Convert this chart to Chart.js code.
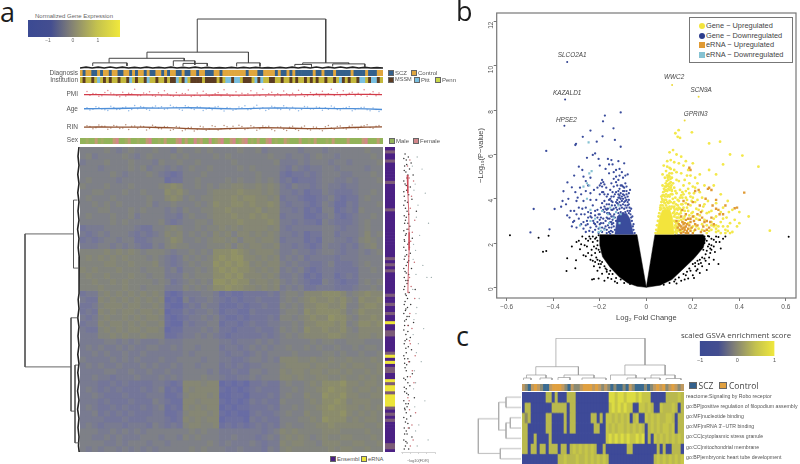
<!DOCTYPE html>
<html>
<head>
<meta charset="utf-8">
<title>Gene expression figure</title>
<script src="https://cdn.jsdelivr.net/npm/chart.js@4/dist/chart.umd.min.js"></script>
<style>
  html, body { margin: 0; padding: 0; background: #fff; }
  #page { position: relative; width: 800px; height: 464px; overflow: hidden; font-family: 'Liberation Sans', sans-serif; }
  #page canvas { position: absolute; }
  .txt { position: absolute; white-space: nowrap; color: #555; line-height: 1; }
  .swatch { position: absolute; }
  .letter { position: absolute; font-family: 'Open Sans', sans-serif; font-size: 27px; color: #1c1c1c; line-height: 1; }
</style>
</head>
<body>
<div id="page"></div>
<script>
// ---- panel a data ----
var heatRows = [
'444 454345 444 54 435 445454 44454 45344 4443 444 34 44 44 4544',
'453 444454 345 44 454 544445 45444 44454 4344 345 44 34 44 4454',
'344 454445 444 35 445 445444 44544 44445 3334 344 43 44 34 4445',
'444 344445 453 44 343 454454 44454 54444 3243 233 44 34 44 4344',
'444 445434 445 43 212 444544 44444 45444 2122 323 44 43 34 4454',
'454 444344 444 44 122 445444 45454 45454 2312 223 44 33 43 4445',
'544 454445 444 45 676 445454 55665 56565 3243 323 43 32 33 4444',
'445 544454 454 44 767 544456 66676 66565 3323 122 43 22 23 4454',
'454 445444 445 44 676 454556 66767 76656 2332 112 34 21 22 4544',
'445 454544 445 34 454 445457 66776 76676 3233 212 43 11 32 4445',
'444 554445 454 44 343 544556 67666 67566 3323 121 44 12 32 5444',
'454 445445 344 44 332 454456 66766 76766 2333 112 34 21 23 4454',
'444 445454 444 45 323 445546 66676 66676 3323 221 43 22 23 4544',
'233 344444 322 44 565 445455 65656 66656 3233 333 44 32 33 4544',
'323 434443 232 34 656 454546 56466 56565 3323 122 44 23 33 4645',
'232 344344 223 44 576 445456 65646 65665 2333 121 44 33 23 5654',
'333 443434 322 43 565 544455 56465 66556 3323 212 43 32 32 4564',
'555 565656 545 55 434 454547 77876 56665 3343 323 44 32 33 4345',
'565 656565 554 54 323 545457 87886 65656 3434 233 33 23 33 4444',
'555 566556 555 64 323 454558 78787 56566 4343 322 34 22 23 4544',
'656 555655 545 55 342 445457 87877 65656 3434 212 33 22 22 4454',
'565 565556 554 55 333 545557 78786 66565 3343 121 33 12 32 4444',
'556 556565 555 45 423 454548 87877 56656 4343 211 43 21 22 4545',
'555 655565 545 55 333 545457 78776 65656 3434 223 33 22 23 4454',
'233 565656 565 65 101 333443 12112 22232 4554 666 77 76 45 6766',
'322 656565 656 56 010 423343 21212 23222 4545 676 67 67 54 7667',
'223 566656 655 65 100 232433 11121 22322 5454 667 76 67 44 6776',
'232 656566 566 56 011 323343 12211 32222 4554 767 77 76 45 7666',
'323 565565 656 65 101 233434 21121 22232 5545 676 68 77 54 6676',
'233 656656 565 56 100 323344 12212 32233 4454 667 77 67 45 7767',
'322 565656 656 65 011 333434 22122 23223 5454 766 76 67 54 6666',
'333 556565 565 55 112 334343 21222 22323 4545 666 67 76 55 6656',
'333 344343 433 34 333 444444 33233 34343 4444 454 55 44 55 5444',
'343 433434 334 43 343 443444 23323 43434 4544 545 44 54 45 4554',
'334 343343 343 33 333 434444 32332 34344 4454 444 55 45 44 5445',
'433 334343 433 34 334 444344 33223 44343 6665 565 56 55 65 5565',
'343 433433 343 43 343 443444 23232 33444 5666 656 65 56 56 6556',
'333 344334 334 33 433 444434 22322 44344 6566 566 56 65 65 5656',
'334 332333 433 34 343 444544 32233 43444 6656 556 65 56 55 6565',
'333 223232 222 33 212 666566 01010 22322 4544 565 77 78 66 5665',
'343 232322 232 34 121 656666 10101 23222 4454 556 78 77 65 6656',
'334 322232 223 33 112 566656 00110 22232 4544 655 87 78 66 5566',
'333 232223 222 43 211 665666 10101 32322 5444 565 77 87 56 6655',
'343 223232 232 34 121 656566 01011 22232 4454 556 78 77 66 5656',
'334 232323 222 33 112 566656 10100 23223 4544 655 77 78 65 6565',
'333 322232 223 33 212 656566 01110 32322 4445 565 87 77 56 5665',
'343 233323 332 43 232 566556 12121 23232 4544 556 67 66 66 6556',
'444 334343 434 44 444 454544 33333 33234 6565 555 66 65 55 5655',
'443 343433 344 43 443 545444 33433 32343 5656 545 65 56 65 5565',
'444 433434 443 44 344 444454 34333 43233 6566 554 66 65 56 6556',
'434 344343 434 34 444 454544 43343 33243 5655 555 56 56 65 5655'
]
var heatColors = { 0: '#686ca4', 1: '#6e719f', 2: '#747699', 3: '#797b91', 4: '#7e8087', 5: '#82847d', 6: '#868774', 7: '#8b8c6c', 8: '#919265', 9: '#9a9b5c' }

var diagnosisTrack = ['CSCCSSCSCCSCCSSCCSCSCCSCSSCCSCSCCSSCSSCCSCCSSSCCSC CCCCCCCSCCCSSCCCCSCSSCSCSS SSSSCSSCSSSCSSSSSCSSSSCSSSCC'.replace(/ /g, '')]
var institutionTrack = ['NMNNMNPNMNMNNMNNMPNMNNMPNNMNNMNMMPNMPNMMMMNMMMMNMN PPMPPNMMMNPMPNNMMNNMNNMNMN NMNMNMNNMNNMNPMNMNNMPPNMPPMN'.replace(/ /g, '')]
var sexTrack = ['MMmMMfMmMMMfFMMmfMMmMMfFMMmMfMMMfFMfMMFmfMMFMmfFMMfFMmfFMmMfMMfFMmMMfmMMMfMMmMfMMMmMfMMMMfMMMMfFMMMfM']
var trackColors = { S: '#33608c', C: '#e0a63e', M: '#5c3c22', P: '#79bfe0', N: '#c4b83c' }
var sexColors = { M: '#93b35a', m: '#a3ad62', f: '#c29a74', F: '#d2868a' }

var geneTypeRows = ['PTPPTPPPPP', 'PTPPPPPPPP', 'TPPPPPPPPP', 'PPPPPPTPTP', 'TPPPPPPPTP', 'PTPPTPPYPP', 'TTPPPPPTYP', 'YPTTPPYTYY', 'TYYYYTPTPT', 'PPPPPPPTTP'].join('').split('')
var geneTypeColors = { P: '#4b2184', T: '#7c5c78', Y: '#ece43a' }

var pmiPoints = [[1, 34], [3, 25], [5, 12], [7, 30], [8, 39], [10, 22], [12, 10], [13, 31], [15, 26], [17, 44], [18, 15], [20, 27], [22, 33], [24, 13], [25, 28], [27, 38], [29, 16], [31, 30], [33, 25], [35, 41], [36, 11], [38, 27], [40, 35], [42, 14], [44, 24], [45, 29], [47, 42], [49, 12], [51, 33], [53, 26], [54, 17], [56, 37], [58, 27], [60, 44], [61, 13], [63, 31], [65, 24], [67, 36], [69, 15], [70, 26], [72, 40], [74, 11], [76, 30], [78, 25], [80, 35], [81, 14], [83, 44], [85, 28], [87, 38], [88, 16], [90, 31], [92, 26], [94, 42], [95, 13], [97, 33], [99, 27], [2, 17], [4, 23], [6, 15], [9, 27], [11, 16], [14, 14], [16, 23], [19, 16], [21, 23], [23, 16], [26, 15], [28, 24], [30, 13], [32, 15], [34, 24], [37, 16], [39, 14], [41, 24], [43, 17], [46, 15], [48, 24], [50, 16], [52, 14], [55, 24], [57, 15], [59, 16], [62, 24], [64, 14], [66, 16], [68, 24], [71, 14], [73, 25], [75, 15], [77, 17], [79, 14], [82, 24], [84, 16], [86, 14], [89, 26], [91, 15], [93, 17], [96, 24], [98, 15]]
var pmiLine = [20, 20, 19, 20, 19, 19, 18, 18, 18, 19, 18, 18, 19, 19, 19, 20, 21, 20, 21, 21, 20]
var agePoints = [[1, 62], [2, 43], [4, 70], [6, 50], [8, 38], [9, 74], [11, 46], [13, 62], [15, 36], [17, 80], [18, 52], [20, 66], [22, 41], [24, 76], [25, 60], [27, 48], [29, 82], [31, 66], [33, 40], [34, 78], [36, 56], [38, 70], [40, 38], [42, 62], [43, 44], [45, 72], [47, 35], [49, 58], [50, 40], [52, 68], [54, 78], [56, 48], [58, 82], [60, 62], [61, 38], [63, 74], [65, 52], [67, 78], [69, 44], [70, 66], [72, 36], [74, 72], [76, 50], [78, 68], [80, 40], [81, 62], [83, 76], [85, 46], [87, 58], [89, 70], [90, 36], [92, 56], [94, 66], [96, 36], [97, 60], [99, 30], [3, 48], [5, 63], [7, 44], [10, 64], [12, 48], [14, 68], [16, 46], [19, 72], [21, 48], [23, 66], [26, 70], [28, 52], [30, 68], [32, 48], [35, 68], [37, 46], [39, 66], [41, 50], [44, 68], [46, 48], [48, 64], [51, 48], [53, 62], [55, 44], [57, 66], [59, 50], [62, 48], [64, 66], [66, 46], [68, 64], [71, 52], [73, 46], [75, 68], [77, 50], [79, 64], [82, 48], [84, 66], [86, 42], [88, 64], [91, 46], [93, 64], [95, 44], [98, 46]]
var ageLine = [53, 54, 55, 57, 60, 58, 60, 61, 59, 55, 52, 54, 58, 60, 58, 56, 56, 54, 54, 52, 47]
var rinPoints = [[1, 8.1], [3, 6.2], [5, 8.6], [6, 7.9], [8, 5.8], [10, 8.4], [12, 6.4], [14, 8.8], [15, 5.6], [17, 8], [19, 7.8], [21, 5.4], [23, 8.5], [25, 6.4], [27, 7.7], [29, 5.1], [31, 7.6], [33, 4.8], [35, 6.9], [37, 4.6], [39, 7.9], [41, 5.2], [43, 8.2], [45, 5.4], [47, 8.3], [49, 5.9], [50, 7.9], [52, 8.5], [54, 5.6], [56, 8.2], [58, 5.1], [60, 8], [62, 7.8], [64, 4.8], [66, 7.4], [68, 5], [70, 7.9], [72, 5], [74, 8], [76, 5.4], [78, 7.2], [80, 4.9], [82, 8.3], [84, 5.8], [86, 8], [88, 6], [90, 8.7], [92, 6], [94, 8.2], [95, 8.8], [97, 6.5], [99, 8.4], [2, 7.7], [4, 6.8], [7, 7.9], [9, 6.6], [11, 7.8], [13, 6.7], [16, 7.8], [18, 6.5], [20, 7.7], [22, 6.3], [24, 7.5], [26, 6.1], [28, 7.3], [30, 5.7], [32, 7.1], [34, 5.5], [36, 7.2], [38, 5.6], [40, 7.3], [42, 6], [44, 7.6], [46, 6.2], [48, 7.5], [51, 6.2], [53, 7.6], [55, 6.3], [57, 7.4], [59, 6.1], [61, 7.2], [63, 5.7], [65, 7.1], [67, 5.8], [69, 7.2], [71, 5.8], [73, 7.2], [75, 6], [77, 7.4], [79, 6.2], [81, 7.5], [83, 6.6], [85, 7.7], [87, 6.6], [89, 7.8], [91, 6.8], [93, 7.8], [96, 7], [98, 7.9]]
var rinLine = [7.3, 7.4, 7.2, 7.3, 7.2, 7, 6.7, 6.3, 6, 6, 6.4, 6.6, 6.9, 6.8, 6.5, 6.2, 6.3, 6.6, 7, 7.2, 7.4]

var fdrDark = [[.6, 1], [1.4, 2], [.9, 3], [2.1, 4], [.5, 5], [1.7, 6], [.8, 7], [2.6, 8], [1.1, 9], [.6, 11], [1.9, 12], [1, 13], [.4, 15], [2.3, 16], [1.2, 17], [.7, 19], [3.4, 20], [1.5, 21], [.9, 22], [.5, 24], [1.8, 25], [1.1, 26], [.7, 28], [2.4, 29], [.5, 30], [1.3, 31], [.8, 33], [1.9, 34], [.6, 35], [1.2, 37], [.9, 38], [2.2, 39], [.6, 40], [1.5, 41], [.8, 43], [1.1, 44], [.5, 45], [3.1, 46], [1.6, 47], [.9, 48], [.6, 50], [2, 51], [1.2, 52], [.7, 53], [1.6, 55], [.9, 56], [2.7, 57], [.5, 58], [1.3, 60], [.8, 61], [1.9, 62], [.6, 63], [1.4, 65], [2.2, 66], [.9, 67], [.5, 69], [1.7, 70], [1, 71], [.6, 72], [2.4, 74], [1.2, 75], [.7, 76], [1.8, 78], [.9, 79], [.5, 80], [1.4, 81], [2.9, 82], [.8, 84], [1.1, 85], [.6, 86], [2, 88], [1, 89], [.7, 90], [1.6, 92], [.9, 93], [.5, 94], [2.3, 95], [1.1, 97], [.7, 98], [1.5, 99], [.3, 2.5], [1, 4.5], [.4, 6.5], [1.3, 8], [.3, 10], [.9, 11.5], [.3, 13.5], [1.5, 14.5], [.6, 16.5], [.3, 18], [1.1, 20], [.4, 21.5], [.7, 23], [1.3, 24], [.3, 26.5], [.9, 27.5], [.4, 29.5], [1.6, 30.5], [.3, 32], [1, 34.5], [.4, 36], [1.5, 36.5], [.3, 39], [.9, 40.5], [.4, 42], [1.3, 43], [.3, 46], [.7, 47.5], [1.2, 49], [.4, 51], [.8, 52.5], [.3, 54], [1.1, 55], [.5, 56.5], [1.4, 58], [.3, 59.5], [1, 62.5], [.4, 64], [.8, 65.5], [.3, 68], [1.3, 69], [.5, 70.5], [.9, 73], [.3, 75.5], [1.3, 77], [.4, 78.5], [1, 80.5], [.3, 83], [1.4, 84], [.5, 85.5], [.9, 87], [.3, 88.5], [1.3, 90.5], [.4, 92], [1.1, 94], [.3, 96], [.8, 96.5], [.4, 99]]
var fdrLight = [[3.6, 2], [4.8, 6], [3.1, 11], [5.6, 14], [3.8, 18], [6.4, 24], [4.2, 28], [3.2, 33], [5, 38], [6, 42], [7.1, 42], [4.1, 49], [3.3, 54], [5.2, 59], [3.9, 64], [4.6, 70], [3.2, 77], [5.5, 83], [4, 91], [6.3, 96], [3.6, 98], [2.6, 36], [2.8, 56], [2.9, 73], [2.4, 5], [2.8, 13], [3.4, 22], [2.7, 31], [3.3, 41], [2.5, 46], [3.5, 52], [2.6, 61], [3.4, 67], [2.7, 79], [3, 85], [3.2, 93]]
var fdrRed = [[1.8, 3], [2.7, 10], [2.2, 15], [3, 23], [2.4, 27], [1.7, 32], [2.9, 37], [2.1, 45], [3, 49], [2.3, 59], [1.9, 64], [3.1, 68], [2.4, 73], [2.8, 77], [1.6, 83], [3.2, 87], [2.3, 91], [2.6, 96], [1.2, 5], [1.6, 9], [1.3, 12], [1.9, 19], [1.4, 26], [2, 30], [1.5, 35], [1.7, 42], [1.4, 47], [1.8, 54], [1.3, 58], [1.7, 63], [1.5, 70], [1.9, 75], [1.3, 82], [1.7, 86], [1.4, 92], [1.9, 98]]
var fdrLine = [[1.1, 8], [1.3, 14], [1.5, 20], [1.6, 27], [1.6, 33], [1.4, 40], [1.3, 47]]

var dendroTop = [
  [[38.7, 16.5], [38.7, 49], [81.1, 49], [81.1, 6]],
  [[22.1, 10.5], [22.1, 16.5], [55.6, 16.5], [55.6, 6]],
  [[9.6, 6], [9.6, 10.5], [34.4, 10.5], [34.4, 8]],
  [[51.7, 2.5], [51.7, 6], [59.4, 6], [59.4, 2.5]],
  [[30.8, 3], [30.8, 8], [37.9, 8], [37.9, 4]],
  [[34, 3], [34, 5.5], [42, 5.5], [42, 3]],
  [[4.2, 3], [4.2, 6], [15.5, 6], [15.5, 3]],
  [[73.5, 4.5], [73.5, 6], [88.7, 6], [88.7, 5]],
  [[70.9, 2.5], [70.9, 4.5], [76.4, 4.5], [76.4, 2.5]],
  [[83.4, 2.5], [83.4, 5], [94, 5], [94, 2]]
]
var dendroTopBase = [[0, 1], [2, 1.8], [4, 1], [6, 1.8], [8, 1], [10, 2], [12, 1], [14, 1.8], [16, 1], [18, 1.6], [20, 1], [22, 1.8], [24, 1], [26, 1.6], [28, 1], [30, 1.8], [32, 1], [34, 1.6], [36, 1], [38, 1.8], [40, 1], [42, 1.6], [44, 1], [46, 1.3], [48, 1], [50, 1.6], [52, 1], [54, 1.6], [56, 1], [58, 1.6], [60, 1], [62, 1.3], [64, 1], [66, 1.6], [68, 1], [70, 1.8], [72, 1], [74, 1.8], [76, 1], [78, 2], [80, 1], [82, 1.8], [84, 1], [86, 2], [88, 1], [90, 1.8], [92, 1], [94, 1.6], [96, 1], [98, 1.3], [100, 1]]

var dendroLeft = [
  [[6.5, 28.5], [55, 28.5], [55, 72.1], [9, 72.1]],
  [[2.5, 17.4], [6.5, 17.4], [6.5, 39.7], [1, 39.7]],
  [[2, 56], [9, 56], [9, 86.6], [5, 86.6]],
  [[2, 71.5], [5, 71.5], [5, 97], [1, 97]]
]
var dendroLeftBase = [[1, 0], [2, 3], [1, 6], [2.2, 9], [1, 12], [2.2, 15], [1, 18], [2, 21], [1, 24], [2.4, 27], [1, 30], [1.8, 33], [.8, 36], [1, 40], [.8, 44], [1, 48], [1.8, 50], [1, 53], [2.2, 56], [1, 59], [2, 62], [1, 65], [2.2, 68], [1, 71], [2.2, 74], [1, 77], [2.4, 80], [1, 83], [2.4, 86], [1, 89], [2, 92], [1, 95], [1.5, 98], [.8, 100]]

// ---- panel b data ----
var volcanoXTicks = [-0.6, -0.4, -0.2, 0, 0.2, 0.4, 0.6]
var namedGenes = ['SLCO2A1', 'KAZALD1', 'HPSE2', 'WWC2', 'SCN9A', 'GPRIN3']
var namedDown = [[-.34, 10.18], [-.349, 8.48], [-.352, 7.3]]
var namedUp = [[.111, 9.14], [.225, 8.61], [.165, 7.53]]
var geneDown = [[-.11, 7.9], [-.178, 7.76], [-.186, 7.5], [-.141, 7.18], [-.24, 7.08], [-.273, 6.8], [-.188, 6.82], [-.135, 6.66], [-.213, 6.58], [-.302, 6.48], [-.305, 6.43], [-.43, 6.16], [-.11, 6.35], [-.22, 6.05], [-.23, 5.98], [-.205, 5.8], [-.255, 5.85], [-.165, 5.8], [-.15, 5.75], [-.145, 5.55], [-.12, 5.7], [-.095, 5.6], [-.2, 5.5], [-.175, 5.35], [-.29, 5.45], [-.275, 5.3], [-.31, 5.05], [-.27, 5], [-.16, 5.15], [-.13, 5.3], [-.105, 5.2], [-.08, 5.1], [-.19, 4.85], [-.195, 4.7], [-.185, 4.75], [-.18, 4.65], [-.172, 4.5], [-.24, 4.95], [-.26, 4.8], [-.339, 4.74], [-.32, 4.52], [-.356, 4.34], [-.305, 4.3], [-.285, 4.5], [-.25, 4.6], [-.225, 4.4], [-.15, 4.7], [-.14, 4.9], [-.12, 4.85], [-.09, 4.7], [-.07, 4.4], [-.155, 4.4], [-.165, 4.2], [-.2, 4.2], [-.215, 3.95], [-.24, 3.95], [-.27, 3.9], [-.3, 3.9], [-.366, 3.64], [-.394, 3.54], [-.484, 3.54], [-.34, 3.25], [-.33, 3.15], [-.325, 3.45], [-.29, 3.6], [-.26, 3.6], [-.23, 3.7], [-.19, 3.8], [-.17, 3.75], [-.15, 3.9], [-.165, 3.55], [-.18, 3.4], [-.2, 3.3], [-.22, 3.25], [-.25, 3.15], [-.28, 3.3], [-.31, 3], [-.32, 2.75], [-.3, 2.7], [-.27, 2.95], [-.24, 2.7], [-.26, 2.5], [-.22, 2.6], [-.2, 2.85], [-.19, 2.5], [-.175, 3], [-.16, 2.7], [-.15, 3.2], [-.145, 2.5], [-.498, 2.48], [-.416, 2.62], [-.21, 2.95], [-.18, 2.65], [-.17, 2.45], [-.155, 2.95], [-.145, 3.5], [-.135, 4.2], [-.125, 4.6], [-.115, 4.45], [-.1, 4.35], [-.085, 4.2], [-.075, 3.95], [-.065, 3.55], [-.06, 3.2], [-.055, 2.85], [-.142, 2.9], [-.148, 3.7], [-.158, 3.1], [-.168, 3.35], [-.185, 2.9], [-.195, 3.15], [-.205, 2.65], [-.228, 3], [-.238, 3.35], [-.252, 2.85], [-.13, 5], [-.1, 4.95], [-.115, 5.05], [-.16, 5.55], [-.14, 5.2],
  [-.05, 2.45], [-.055, 2.6], [-.058, 2.75], [-.062, 3], [-.065, 3.15], [-.068, 3.3], [-.07, 3.45], [-.072, 3.6], [-.075, 3.75], [-.08, 3.85], [-.085, 3.95], [-.09, 4.05], [-.095, 4.15], [-.1, 4.2], [-.105, 4.1], [-.11, 4.25], [-.115, 4.15], [-.12, 4.05], [-.125, 3.95], [-.13, 3.85], [-.135, 3.7], [-.14, 3.55], [-.138, 3.3], [-.142, 3.2], [-.145, 3.05], [-.148, 2.85], [-.15, 2.7], [-.152, 2.55], [-.155, 2.42], [-.13, 2.45], [-.135, 2.6], [-.14, 2.75], [-.13, 3], [-.135, 3.15], [-.075, 3.35], [-.08, 3.45], [-.09, 3.4], [-.1, 3.35], [-.11, 3.4], [-.12, 3.35], [-.125, 3.5], [-.115, 3.55], [-.105, 3.6], [-.095, 3.55], [-.085, 3.6], [-.08, 3.7], [-.09, 3.7], [-.1, 3.75], [-.11, 3.7], [-.12, 3.75], [-.13, 3.6], [-.095, 3.85], [-.105, 3.9], [-.115, 3.85], [-.125, 3.8], [-.1, 4], [-.11, 4], [-.09, 3.9], [-.115, 4.05],
  [-.16, 2.5], [-.165, 2.8], [-.17, 3.15], [-.175, 3.55], [-.18, 3.9], [-.185, 4.3], [-.19, 4.55], [-.195, 3.6], [-.2, 3.05], [-.205, 2.45], [-.21, 3.5], [-.215, 2.75], [-.22, 3.45], [-.225, 2.9], [-.23, 2.5], [-.235, 3.15], [-.24, 4.25], [-.245, 2.55], [-.25, 3.4], [-.255, 3], [-.26, 2.8], [-.265, 3.3], [-.27, 2.65], [-.275, 3.55], [-.28, 2.85], [-.29, 3.1], [-.295, 4.05], [-.3, 3.3], [-.31, 3.45], [-.315, 2.95], [-.335, 4], [-.345, 3.75], [-.36, 3.9], [-.28, 4.2], [-.26, 4.35], [-.21, 4.5], [-.2, 4.6], [-.19, 4.3], [-.18, 4.2], [-.17, 4.1], [-.16, 3.95], [-.15, 4.1], [-.145, 4.3], [-.14, 4.55], [-.13, 4.75], [-.12, 4.35], [-.115, 5.35], [-.105, 4.6], [-.095, 4.5], [-.085, 4.55], [-.075, 4.25], [-.09, 5.05], [-.16, 3.35], [-.175, 2.75], [-.185, 3.1], [-.19, 2.7], [-.21, 3.15], [-.22, 2.85], [-.24, 3.2], [-.15, 2.95], [-.155, 3.3], [-.15, 3.5], [-.16, 3.75], [-.155, 4], [-.17, 2.6], [-.165, 3.1], [-.18, 3.65], [-.17, 3.5], [-.185, 3.5], [-.195, 2.9], [-.205, 3.3], [-.145, 3.85], [-.14, 4.1], [-.13, 4.3], [-.12, 4.2], [-.11, 4.6], [-.1, 4.55], [-.095, 4.35], [-.085, 4.35], [-.08, 4.1]]
var ernaDown = [[-.248, 6.55], [-.235, 5.25], [-.245, 5.15], [-.27, 4.55], [-.255, 4.7], [-.245, 4.6], [-.255, 4], [-.24, 3.5], [-.22, 3.1], [-.19, 3.45], [-.165, 3.3], [-.155, 3.6], [-.14, 3.15], [-.13, 3.4], [-.115, 2.9], [-.12, 3.7], [-.205, 2.5], [-.2, 2.7], [-.195, 2.55], [-.18, 2.6], [-.285, 2.8], [-.24, 3], [-.11, 3.3], [-.16, 2.9]]
var geneUp = [[.139, 7.1], [.125, 6.96], [.135, 6.8], [.196, 7], [.145, 6.75], [.27, 6.5], [.317, 6.58], [.36, 6], [.413, 5.95], [.482, 5.45], [.33, 5.55], [.2, 5.6], [.531, 2.56], [.1, 6.1], [.115, 6.2], [.13, 6], [.15, 5.9], [.17, 5.7], [.09, 5.7], [.105, 5.75], [.12, 5.65], [.14, 5.6], [.16, 5.5], [.18, 5.3], [.1, 5.4], [.085, 5.25], [.11, 5.15], [.13, 5.2], [.15, 5.15], [.19, 5.05], [.21, 4.95], [.23, 5.1], [.25, 4.6], [.27, 5.3], [.3, 5.1], [.08, 4.95], [.095, 4.85], [.115, 4.7], [.14, 4.8], [.16, 4.6], [.18, 4.45], [.2, 4.55], [.22, 4.7], [.29, 4.6], [.32, 4.2], [.35, 3.9], [.07, 4.6], [.085, 4.4], [.11, 4.35], [.13, 4.25], [.15, 4.15], [.17, 4.05], [.19, 4.1], [.21, 3.85], [.24, 4.05], [.3, 3.8], [.33, 3.6], [.37, 3.5], [.4, 3.4], [.065, 4.1], [.08, 3.95], [.12, 3.85], [.135, 3.7], [.155, 3.75], [.175, 3.6], [.2, 3.4], [.225, 3.5], [.27, 3.4], [.3, 3.2], [.33, 3.1], [.36, 2.9], [.39, 2.75], [.06, 3.6], [.12, 3.4], [.14, 3.3], [.16, 3.1], [.185, 3.25], [.215, 3.1], [.25, 3.05], [.28, 2.95], [.31, 2.75], [.34, 2.6], [.37, 2.5], [.3, 2.5], [.32, 2.45], [.27, 2.55], [.24, 2.6], [.2, 2.75], [.18, 2.9], [.13, 2.9], [.14, 2.6], [.125, 2.5], [.115, 3], [.105, 4.75], [.12, 4.5], [.098, 4.55], [.07, 5.1], [.09, 5.45], [.075, 5.5], [.13, 3.55], [.15, 3.45], [.165, 3.45], [.125, 4.05], [.145, 4.4], [.165, 4.85], [.175, 5.05], [.13, 2.65], [.28, 2.6], [.29, 2.75], [.26, 2.8], [.225, 2.65], [.35, 2.75], [.32, 3.4],
  [.04, 2.45], [.043, 2.6], [.046, 2.8], [.05, 3], [.053, 3.2], [.056, 3.35], [.06, 3.5], [.062, 3.7], [.065, 3.85], [.068, 4], [.07, 4.15], [.073, 4.3], [.076, 4.45], [.08, 4.55], [.084, 4.7], [.088, 4.8], [.092, 4.95], [.096, 5.05], [.1, 5], [.104, 4.9], [.108, 4.6], [.11, 4.4], [.112, 4.2], [.114, 4], [.116, 3.8], [.118, 3.6], [.12, 3.2], [.122, 3], [.125, 2.8], [.128, 2.6], [.13, 2.45], [.135, 2.55], [.138, 2.75], [.14, 3], [.145, 2.5], [.065, 3.55], [.07, 3.7], [.075, 3.6], [.08, 3.55], [.085, 3.7], [.09, 3.6], [.095, 3.55], [.1, 3.65], [.105, 3.55], [.11, 3.65], [.07, 3.95], [.075, 3.85], [.08, 3.8], [.085, 3.95], [.09, 3.85], [.095, 3.8], [.1, 3.9], [.105, 3.85], [.075, 4.15], [.08, 4.1], [.085, 4.2], [.09, 4.1], [.095, 4.15], [.1, 4.1], [.105, 4.2], [.08, 4.35], [.085, 4.55], [.09, 4.35], [.095, 4.45], [.1, 4.4], [.09, 4.6], [.095, 4.65], [.1, 4.7], [.105, 4.5],
  [.125, 3.3], [.13, 3.15], [.135, 3.5], [.14, 3.9], [.145, 3.55], [.15, 3.05], [.155, 4.3], [.16, 3.6], [.165, 3.2], [.17, 4.35], [.175, 3.95], [.18, 3.45], [.185, 4.7], [.19, 3.7], [.195, 3.35], [.2, 4.05], [.205, 3.2], [.21, 4.5], [.22, 3.95], [.225, 3.05], [.23, 4.3], [.24, 3.45], [.25, 3.75], [.26, 3.35], [.265, 3.9], [.28, 3.45], [.29, 3.1], [.3, 2.8], [.31, 2.55], [.33, 2.75], [.345, 3.15], [.355, 3.4], [.38, 3.05], [.4, 2.9], [.44, 3.2], [.34, 2.45], [.36, 2.45], [.12, 2.7], [.135, 3.15], [.125, 2.95], [.11, 4.95], [.105, 5.35], [.12, 5.3], [.1, 5.15], [.09, 5.05], [.13, 4.85], [.125, 4.35], [.145, 4.05], [.16, 4.2], [.135, 3.95], [.15, 3.75], [.115, 3.35], [.12, 3.65],
  [.132, 3.35], [.142, 3.15], [.148, 3.35], [.122, 3.5], [.128, 3.75], [.14, 3.6], [.128, 2.75], [.135, 2.9], [.15, 2.55], [.158, 2.95], [.19, 2.65], [.205, 2.55], [.215, 2.75], [.24, 2.85], [.26, 2.45], [.28, 2.8], [.3, 2.65], [.32, 2.95], [.35, 2.55], [.155, 4.05], [.17, 3.8], [.185, 4.25], [.195, 3.9], [.205, 4.25], [.215, 3.55], [.23, 3.25], [.245, 3.65]]
var ernaUp = [[.421, 4.28], [.38, 3.57], [.39, 3.6], [.27, 4.5], [.28, 4.4], [.265, 4.45], [.185, 5.4], [.19, 5.3], [.21, 4.35], [.225, 4.4], [.3, 3.95], [.255, 4], [.16, 3.9], [.18, 3.75], [.2, 3.85], [.23, 3.7], [.22, 3.3], [.17, 3.3], [.15, 3.2], [.19, 3.1], [.13, 3], [.14, 2.85], [.155, 2.95], [.17, 3.05], [.18, 3.1], [.2, 3.2], [.24, 3.15], [.25, 2.95], [.26, 3], [.275, 2.95], [.29, 2.85], [.31, 3.5], [.315, 3.3], [.33, 3.3], [.34, 3.7], [.3, 3.55], [.285, 3.7], [.135, 2.7], [.145, 2.6], [.15, 2.75], [.16, 2.85], [.165, 2.6], [.17, 2.75], [.175, 2.55], [.18, 2.65], [.16, 2.5], [.15, 2.45], [.145, 2.8], [.19, 2.55], [.185, 2.8], [.195, 2.7], [.21, 2.6], [.22, 2.8], [.235, 2.5], [.25, 2.55], [.27, 2.7], [.17, 2.45], [.165, 2.9], [.155, 2.65], [.16, 2.7], [.175, 2.85], [.18, 2.45], [.2, 2.45], [.165, 2.7], [.21, 2.85], [.23, 3.05], [.245, 2.75], [.26, 2.6], [.28, 3.15], [.205, 3], [.19, 2.95], [.235, 3.4], [.155, 3.5]]
var notSignificant = [[-.34, 1.31], [-.343, .74], [-.305, .86], [-.302, 1.23], [-.27, 1.45], [-.265, 1.9], [-.285, 1.72], [-.29, 2.1], [-.26, 2.2], [-.25, 1.55], [-.24, 1.25], [-.235, 1.7], [-.23, 2.05], [-.225, .95], [-.22, 1.15], [-.215, 2.25], [-.21, .75], [-.205, 1.05], [-.22, 1.55], [-.245, 2.3], [-.275, 2.3], [-.3, 2.05], [-.32, 1.85], [-.233, .35], [-.225, .38], [-.205, .4], [-.165, .43], [-.18, .3], [-.135, .27], [-.15, .38], [-.19, .62], [-.17, .7], [-.2, .9], [-.444, 1.61], [-.43, 1.64], [-.42, 2.33], [-.463, 2.24], [-.586, 2.35], [.612, 2.29], [.34, 2.3], [.33, 2.2], [.31, 2.28], [.3, 2.05], [.32, 1.75], [.29, 1.85], [.275, 1.55], [.29, 1.25], [.27, 1.05], [.31, 1.05], [.255, 1.2], [.26, .78], [.24, .95], [.23, .65], [.22, .82], [.2, .55], [.205, .42], [.18, .4], [.165, .35], [.15, .3], [.13, .18], [.28, 2.2], [.27, 1.95], [.265, 2.32], [.29, 2.15], [.25, 2], [.245, 1.7], [.26, 1.65], [.23, 1.25], [.225, 1.05], [.21, .95], [-.21, 1.9], [-.215, 1.35], [-.2, 1.6], [-.19, 1.15], [-.175, .85], [-.16, .6], [-.125, .2], [.19, .75], [.17, .55], [.12, .27],
  [-.205, 2.35], [-.21, 2.1], [-.205, 1.7], [-.215, 1.75], [-.225, 1.85], [-.22, 2.2], [-.23, 2.3], [-.235, 1.45], [-.23, 1.2], [-.21, 1.25], [-.2, 1.2], [-.195, 1.05], [-.18, .95], [-.17, .8], [-.155, .75], [-.145, .6], [-.13, .42], [-.11, .35], [-.095, .2], [-.07, .15], [-.25, 2.1], [-.255, 1.85], [-.24, 2.2], [-.26, 1.4], [-.28, 1.95], [.25, 2.3], [.26, 2.1], [.265, 1.85], [.255, 1.5], [.24, 1.35], [.22, 1.2], [.21, 1.1], [.2, 1.05], [.185, .85], [.175, .7], [.16, .6], [.14, .45], [.125, .35], [.1, .2], [.075, .12], [.27, 2.3], [.28, 1.9], [.275, 1.75], [.25, 1.3], [.235, 1.1], [.27, 1.35], [.28, 1.7], [.3, 2.3], [.315, 2.05], [.295, 1.6], [.215, .75]]
var blackLeftShape = [[0, 0], [-.04, .05], [-.08, .2], [-.117, .48], [-.155, .9], [-.188, 1.38], [-.2, 1.9], [-.2, 2.38], [-.04, 2.38], [0, 0]]
var blackRightShape = [[0, 0], [.037, 2.38], [.245, 2.38], [.255, 2.2], [.245, 1.8], [.205, 1.3], [.15, .75], [.11, .35], [.06, .1], [0, 0]]
var blueDenseShape = [[-.055, 2.39], [-.07, 3.1], [-.085, 3.35], [-.11, 3.35], [-.125, 3.2], [-.135, 2.39]]
var yellowDenseShape = [[.043, 2.39], [.058, 3.2], [.07, 3.5], [.1, 3.55], [.112, 3.2], [.12, 2.39]]

// ---- panel c data ----
var gsvaRows = [
'00000000 77 0 7 000 777 00000000000 99899899989888 00000 777787',
'0 77 0000000 77777 0 77 00000000000 89898988 00 88787 00 877787 0 7',
'7 5 7 00000 77 0000 7 0 77 00000 77 0 7 0 88787878 0 78 00 8787877887 0 77',
'77 0 00000 77 0000 7 0 77 000000 77 00 8787887878787 0 787878878 0 77',
'77 00 7 0000 7 0000 00000000000000 8989898988989 0 7 0 8787878787',
'77 0 77 0 77 0 777 0 77 0 787878787 00 7 0000000 77 00000000 7 0 7 00 777 0',
'000000000000 77877787787878787 000000000000000 7878787878'
]
var gsvaColors = { 0: '#3e4a98', 5: '#8a8a64', 7: '#b9b94e', 8: '#c6c648', 9: '#dcdc42' }
var gsvaLabels = ['reactome:Signaling by Robo receptor', 'go:BP|positive regulation of filopodium assembly', 'go:MF|nucleotide binding', "go:MF|mRNA 3'\u2212UTR binding", 'go:CC|cytoplasmic stress granule', 'go:CC|mitochondrial membrane', 'go:BP|embryonic heart tube development']
var gsvaTrack = ['tmStCtmSStCCCtmStmmtCCCtCtmtmSmSSmStmSSSmSmtCtCmtCtmt']
var gsvaTrackColors = { S: '#3a6a90', C: '#e0a040', t: '#c09a60', m: '#8a8a74' }
var dendroGsvaTop = [
  [[11.3, 14.3], [11.3, 42.7], [41, 42.7], [41, 16]],
  [[4.6, 6], [4.6, 14.3], [18.8, 14.3], [18.8, 6]],
  [[34.3, 6], [34.3, 16], [47.7, 16], [47.7, 6]],
  [[1.5, 3], [1.5, 6], [8, 6], [8, 3]],
  [[14, 3.5], [14, 6], [24, 6], [24, 3]],
  [[29.5, 1], [29.5, 6], [38, 6], [38, 3]],
  [[43, 3], [43, 6], [51, 6], [51, 2.5]],
  [[.5, 1], [.5, 3], [3, 3], [3, 1]],
  [[6, 1], [6, 3], [10, 3], [10, 1]],
  [[12, 1], [12, 3.5], [16, 3.5], [16, 1]],
  [[20, 1], [20, 3], [28, 3], [28, 1]],
  [[35, 1], [35, 3], [41, 3], [41, 1]],
  [[41, 1], [41, 3], [46, 3], [46, 1]],
  [[48, 1], [48, 2.5], [53, 2.5], [53, 1]]
]
var dendroGsvaSide = [
  [[22.3, 2.6], [42.7, 2.6], [42.7, 5.97], [20.7, 5.97]],
  [[0, 5.5], [20.7, 5.5], [20.7, 6.5], [0, 6.5]],
  [[15, 1], [22.3, 1], [22.3, 3.7], [15, 3.7]],
  [[0, .5], [15, .5], [15, 1.5], [0, 1.5]],
  [[10.7, 3], [15, 3], [15, 4.5], [0, 4.5]],
  [[0, 2.5], [10.7, 2.5], [10.7, 3.5], [0, 3.5]]
]

var colorbarStops = [[0, '#3b4a93'], [0.25, '#444e90'], [0.45, '#7d7c78'], [0.75, '#c4c24e'], [1, '#f0e83c']]

// ---- helpers ----
var page = document.getElementById('page')
Chart.defaults.font.family = "'Liberation Sans', sans-serif"
Chart.defaults.animation = false
Chart.defaults.responsive = false
Chart.defaults.plugins.legend.display = false
Chart.defaults.plugins.tooltip.enabled = false

function newCanvas(left, top, width, height) {
  var c = document.createElement('canvas')
  c.width = width
  c.height = height
  c.style.left = left + 'px'
  c.style.top = top + 'px'
  c.style.width = width + 'px'
  c.style.height = height + 'px'
  page.appendChild(c)
  return c
}

function text(str, x, y, size, opts) {
  opts = opts || {}
  var d = document.createElement('div')
  d.className = 'txt'
  d.textContent = str
  d.style.left = x + 'px'
  d.style.top = y + 'px'
  d.style.fontSize = size + 'px'
  if (opts.color) d.style.color = opts.color
  if (opts.family) d.style.fontFamily = opts.family
  var shiftX = opts.align === 'right' ? '-100%' : opts.align === 'center' ? '-50%' : '0'
  d.style.transform = 'translate(' + shiftX + ',-50%)'
  page.appendChild(d)
}

function swatch(color, x, y, w, h) {
  var d = document.createElement('div')
  d.className = 'swatch'
  d.style.cssText += 'left:' + x + 'px;top:' + y + 'px;width:' + w + 'px;height:' + h + 'px;background:' + color + ';border:0.5px solid #666;box-sizing:border-box'
  page.appendChild(d)
}

function letter(str, x, y) {
  var d = document.createElement('div')
  d.className = 'letter'
  d.textContent = str
  d.style.left = x + 'px'
  d.style.top = y + 'px'
  page.appendChild(d)
}

function toPoints(list) {
  return list.map(function (p) { return { x: p[0], y: p[1] } })
}

// stacked bars, one dataset per row, so each cell goes through the scales
function heatChart(left, top, width, height, rows, colors) {
  var grid = rows.map(function (r) { return r.replace(/ /g, '').split('') })
  var labels = grid[0].map(function (_, i) { return i })
  var datasets = grid.map(function (row) {
    return {
      data: labels.map(function () { return 1 }),
      backgroundColor: labels.map(function (i) { return colors[row[i]] || colors[row[row.length - 1]] }),
      borderWidth: 0,
      barPercentage: 1,
      categoryPercentage: 1,
    }
  })
  return new Chart(newCanvas(left, top, width, height), {
    type: 'bar',
    data: { labels: labels, datasets: datasets },
    options: {
      layout: { padding: 0 },
      scales: {
        x: { display: false, stacked: true },
        y: { display: false, stacked: true, reverse: true, min: 0, max: grid.length },
      },
    },
  })
}

// xr is [left value, right value], yr is [bottom value, top value]
function dendroChart(left, top, width, height, segments, xr, yr, color, lineWidth, base) {
  var pts = []
  segments.forEach(function (seg) {
    toPoints(seg).forEach(function (p) { pts.push(p) })
    pts.push({ x: NaN, y: NaN })
  })
  var datasets = [{ data: pts, showLine: true, spanGaps: false, borderColor: color, borderWidth: lineWidth, pointRadius: 0, clip: false }]
  if (base) datasets.push({ data: toPoints(base), showLine: true, borderColor: '#222', borderWidth: 1.6, pointRadius: 0, clip: false })
  return new Chart(newCanvas(left, top, width, height), {
    type: 'scatter',
    data: { datasets: datasets },
    options: {
      layout: { padding: 0 },
      scales: {
        x: { display: false, min: Math.min(xr[0], xr[1]), max: Math.max(xr[0], xr[1]), reverse: xr[0] > xr[1] },
        y: { display: false, min: Math.min(yr[0], yr[1]), max: Math.max(yr[0], yr[1]), reverse: yr[0] > yr[1] },
      },
    },
  })
}

function trackChart(top, height, points, line, yMin, yMax, color) {
  var lineData = line.map(function (v, i) { return { x: i * 5, y: v } })
  return new Chart(newCanvas(80, top, 306, height), {
    type: 'scatter',
    data: {
      datasets: [
        { data: lineData, showLine: true, borderColor: color, borderWidth: 1.3, pointRadius: 0 },
        { data: toPoints(points), backgroundColor: color + 'a0', pointRadius: 0.75, borderWidth: 0 },
      ],
    },
    options: {
      layout: { padding: { right: 4 } },
      scales: {
        x: { display: false, min: 0, max: 100 },
        y: { display: false, min: yMin, max: yMax },
      },
    },
  })
}

function colorbarChart(left, top, width, min, max, barFrom, barTo, barH, tickSize, tickColor) {
  return new Chart(newCanvas(left, top, width, barH + 12), {
    type: 'bar',
    data: {
      labels: [''],
      datasets: [{
        data: [[barFrom, barTo]],
        barPercentage: 1,
        categoryPercentage: 1,
        borderWidth: 0,
        backgroundColor: function (ctx) {
          var area = ctx.chart.chartArea
          if (!area) return '#888'
          var x = ctx.chart.scales.x
          var g = ctx.chart.ctx.createLinearGradient(x.getPixelForValue(barFrom), 0, x.getPixelForValue(barTo), 0)
          colorbarStops.forEach(function (s) { g.addColorStop(s[0], s[1]) })
          return g
        },
      }],
    },
    options: {
      indexAxis: 'y',
      layout: { padding: 0 },
      scales: {
        y: { display: false },
        x: {
          min: min,
          max: max,
          afterFit: function (s) { s.height = 12 },
          border: { display: false },
          grid: { display: true, drawOnChartArea: false, drawTicks: false, tickLength: 0 },
          ticks: {
            stepSize: 1,
            includeBounds: false,
            maxRotation: 0,
            padding: 1,
            color: tickColor,
            font: { size: tickSize },
            callback: function (v) { return Number.isInteger(v) ? String(v).replace('-', '\u2212') : '' },
          },
        },
      },
    },
  })
}

// ---- panel a ----
letter('a', 0, -2)
text('Normalized Gene Expression', 74, 15.5, 6, { align: 'center', color: '#666' })
colorbarChart(28, 20, 92, -1.8, 1.88, -1.8, 1.88, 17, 5, '#666')

dendroChart(80, 18, 303, 51, dendroTop, [0, 100], [0, 50], '#444', 1, dendroTopBase)

text('Diagnosis', 78, 73, 6.5, { align: 'right' })
text('Institution', 78, 80, 6.5, { align: 'right' })
heatChart(80, 70, 303, 6, diagnosisTrack, trackColors)
heatChart(80, 77, 303, 6, institutionTrack, trackColors)
swatch(trackColors.S, 388, 69.5, 6, 6)
text('SCZ', 395, 72.5, 6, {})
swatch(trackColors.C, 411, 69.5, 6, 6)
text('Control', 418, 72.5, 6, {})
swatch(trackColors.M, 388, 77, 6, 6)
text('MSSM', 395, 80, 5.6, {})
swatch(trackColors.P, 414, 77, 6, 6)
text('Pitt', 421, 80, 6, {})
swatch('#c8d84a', 435, 77, 6, 6)
text('Penn', 442, 80, 6, {})

text('PMI', 78, 94, 6.5, { align: 'right' })
text('Age', 78, 108.5, 6.5, { align: 'right' })
text('RIN', 78, 127, 6.5, { align: 'right' })
text('Sex', 78, 140, 6.5, { align: 'right' })
trackChart(84, 19, pmiPoints, pmiLine, 0, 50, '#d23c4a')
trackChart(99, 19, agePoints, ageLine, 10, 100, '#4f8fd8')
trackChart(119, 17, rinPoints, rinLine, 4, 10, '#91502e')
heatChart(80, 138, 303, 6, sexTrack, sexColors)
swatch(sexColors.M, 389, 138, 6, 6)
text('Male', 396, 141, 6, {})
swatch(sexColors.F, 413, 138, 6, 6)
text('Female', 420, 141, 6, {})

dendroChart(20, 147, 60, 305, dendroLeft, [60, 0], [100, 0], '#555', 0.9, dendroLeftBase)
heatChart(80, 147, 303, 305, heatRows, heatColors)
heatChart(384.5, 147, 10, 305, geneTypeRows, geneTypeColors)

new Chart(newCanvas(397, 147, 42, 316), {
  type: 'scatter',
  data: {
    datasets: [
      { data: toPoints(fdrLine), showLine: true, borderColor: '#c8404e', borderWidth: 0.8, pointRadius: 0 },
      { data: toPoints(fdrRed), backgroundColor: '#c76a70', pointRadius: 0.75, borderWidth: 0 },
      { data: toPoints(fdrDark), backgroundColor: '#333', pointRadius: 0.75, borderWidth: 0 },
      { data: toPoints(fdrLight), backgroundColor: '#9aa', pointRadius: 0.65, borderWidth: 0 },
    ],
  },
  options: {
    layout: { padding: 0 },
    scales: {
      x: {
        min: -0.4,
        max: 8,
        afterFit: function (s) { s.height = 11 },
        border: { color: '#aaa', width: 0.5 },
        grid: { drawOnChartArea: false, color: '#aaa', tickLength: 2, lineWidth: 0.5 },
        ticks: { display: false, stepSize: 2, includeBounds: false },
        title: { display: true, text: '\u2212log10(FDR)', color: '#666', font: { size: 3.8 }, padding: 0 },
      },
      y: { display: false, min: 0, max: 100, reverse: true },
    },
  },
})
swatch(geneTypeColors.P, 330, 456, 6, 6)
text('Ensembl', 337, 459.5, 5.8, {})
swatch(geneTypeColors.Y, 361, 456, 6, 6)
text('eRNA', 368, 459.5, 5.8, {})

// ---- panel b ----
letter('b', 456, -3)

// frame and the italic gene names, placed through the scales
var volcanoDecor = {
  id: 'volcanoDecor',
  afterDraw: function (chart) {
    var ctx = chart.ctx, a = chart.chartArea, sx = chart.scales.x, sy = chart.scales.y
    ctx.save()
    ctx.strokeStyle = '#777'
    ctx.lineWidth = 1.2
    ctx.strokeRect(a.left, a.top, a.right - a.left, a.bottom - a.top)
    ctx.font = "italic 6.4px 'Liberation Sans', sans-serif"
    ctx.fillStyle = '#444'
    ctx.textAlign = 'center'
    var nudges = [[5, -4.5], [2, -4.2], [2, -4], [2, -5.5], [2.5, -5], [11, -4.5]]
    namedDown.concat(namedUp).forEach(function (p, i) {
      ctx.fillText(namedGenes[i], sx.getPixelForValue(p[0]) + nudges[i][0], sy.getPixelForValue(p[1]) + nudges[i][1])
    })
    ctx.restore()
  },
}

function pointSet(list, color, radius, style) {
  return { data: toPoints(list), backgroundColor: color, borderWidth: 0, pointRadius: radius, pointStyle: style || 'circle' }
}
function shapeSet(list, color) {
  return { data: toPoints(list), showLine: true, fill: 'shape', backgroundColor: color, borderColor: color, borderWidth: 0.5, pointRadius: 0 }
}

new Chart(newCanvas(470, 0, 330, 330), {
  type: 'scatter',
  data: {
    datasets: [
      pointSet(namedDown, '#2d3e8e', 1),
      pointSet(namedUp, '#ecd93a', 1),
      pointSet(ernaUp, '#e09a34', 1.7, 'rect'),
      pointSet(ernaDown, '#86c2d2', 1.5, 'rect'),
      pointSet(geneUp, '#f3e84a', 1.4),
      pointSet(geneDown, '#3a4c9c', 1.15),
      pointSet(notSignificant, '#000', 1),
      shapeSet(yellowDenseShape, '#f3e43c'),
      shapeSet(blueDenseShape, '#3a4c9c'),
      shapeSet(blackLeftShape, '#000'),
      shapeSet(blackRightShape, '#000'),
    ],
  },
  plugins: [volcanoDecor],
  options: {
    layout: { padding: { top: 13, right: 2 } },
    scales: {
      x: {
        min: -0.643,
        max: 0.6435,
        afterFit: function (s) { s.height = 32 },
        border: { display: false },
        grid: { drawOnChartArea: false, color: '#777', tickLength: 3 },
        afterBuildTicks: function (s) { s.ticks = volcanoXTicks.map(function (v) { return { value: v } }) },
        ticks: {
          color: '#555',
          padding: 2,
          maxRotation: 0,
          font: { size: 6.5 },
          callback: function (v) { return v === 0 ? '0' : (v < 0 ? '\u2212' : '') + Math.abs(v).toFixed(1) },
        },
        title: { display: true, text: 'Log\u2082 Fold Change', color: '#444', font: { size: 7.5 }, padding: { top: 0, bottom: 8 } },
      },
      y: {
        min: -0.48,
        max: 12.39,
        afterFit: function (s) { s.width = 26.7 },
        border: { display: false },
        grid: { drawOnChartArea: false, color: '#777', tickLength: 3 },
        ticks: { color: '#555', stepSize: 2, includeBounds: false, minRotation: 90, padding: 2, font: { size: 6.5 } },
        title: { display: true, text: '\u2212Log\u2081\u2080(P\u2212value)', color: '#444', font: { size: 7.5 }, padding: { top: 6, bottom: 0 } },
      },
    },
  },
})

var legendBox = document.createElement('div')
legendBox.style.cssText = 'position:absolute;left:689px;top:17px;width:103.5px;height:46px;border:1px solid #777;background:#fff;box-sizing:border-box'
page.appendChild(legendBox)
;[['Gene \u2212 Upregulated', '#f3e43c', '50%', 26], ['Gene \u2212 Downregulated', '#2d3e8e', '50%', 35.5], ['eRNA \u2212 Upregulated', '#e09a34', '0', 45], ['eRNA \u2212 Downregulated', '#86c2d2', '0', 54.5]].forEach(function (e) {
  var m = document.createElement('div')
  m.style.cssText = 'position:absolute;left:699px;top:' + (e[3] - 3) + 'px;width:6px;height:6px;background:' + e[1] + ';border-radius:' + e[2]
  page.appendChild(m)
  text(e[0], 706, e[3], 7.4, { color: '#444' })
})

// ---- panel c ----
letter('c', 456, 322)
text('scaled GSVA enrichment score', 736, 336, 7.8, { align: 'center', color: '#444', family: "'Open Sans', sans-serif" })
colorbarChart(696, 341, 81, -1.01, 1, -1.01, 1, 15, 5.5, '#555')
swatch('#33608c', 689, 382, 8, 7)
text('SCZ', 698.5, 385.5, 8.5, { color: '#444', family: "'Open Sans', sans-serif" })
swatch('#e0a040', 719, 382, 8, 7)
text('Control', 729, 385.5, 8.5, { color: '#444', family: "'Open Sans', sans-serif" })

dendroChart(522, 338, 162, 45, dendroGsvaTop, [0, 54], [-2, 43], '#999', 0.7)
heatChart(522, 383.5, 162, 7.2, gsvaTrack, gsvaTrackColors)
heatChart(522, 392, 162, 71.5, gsvaRows, gsvaColors)
dendroChart(476, 392, 45, 71.5, dendroGsvaSide, [45, 0], [7, 0], '#aaa', 0.8)
gsvaLabels.forEach(function (label, i) {
  text(label, 686, 396.8 + i * 10.15, 5.2, { color: '#555' })
})
</script>
</body>
</html>
